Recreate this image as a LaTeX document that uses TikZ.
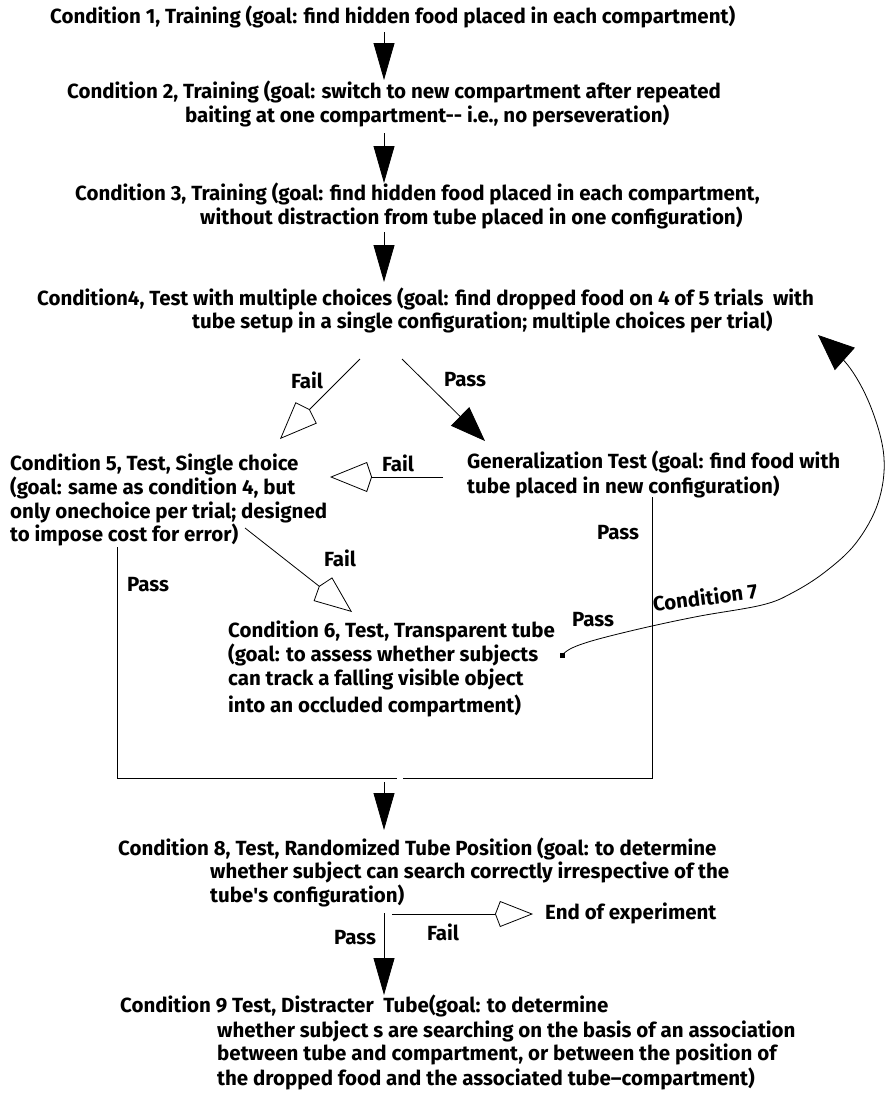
\documentclass[tikz,border=0pt]{standalone}
\usepackage{fontspec}
\setmainfont{Fira Sans}
\usetikzlibrary{arrows.meta}
\tikzset{
  txt/.style ={anchor=base west,inner sep=0pt,font=\bfseries\fontsize{20.5}{24}\selectfont},
  lab/.style ={inner sep=0pt,font=\bfseries\fontsize{20.5}{24}\selectfont},
  link/.style={line width=0.8pt},
  down/.style={link,-{Triangle[length=37pt,width=21pt]}},
  yes/.style ={link,-{Triangle[length=35pt,width=26pt]}},
  no/.style  ={link,-{Kite[open,length=42pt,width=30pt,inset=5pt]}},
}

\begin{document}
\begin{tikzpicture}[x=1pt,y=-1pt]
  \useasboundingbox (0,0) rectangle (893,1093);
  % conditions
  \node[txt] (c1) at (50,23){Condition 1, Training (goal: find hidden food placed in each compartment)};
  \node[txt] (c2a) at (67,98){Condition 2, Training (goal: switch to new compartment after repeated};
  \node[txt] (c2b) at (185,122){baiting at one compartment-{}- i.e., no perseveration)};
  \node[txt] (c3a) at (75,200){Condition 3, Training (goal: find hidden food placed in each compartment,};
  \node[txt] (c3b) at (200,224){without distraction from tube placed in one configuration)};
  \node[txt] (c4a) at (37,305){Condition4, Test with multiple choices (goal: find dropped food on 4 of 5 trials~ with};
  \node[txt] (c4b) at (192,328){tube setup in a single configuration; multiple choices per trial)};
  \node[txt] (g1) at (467,468){Generalization Test (goal: find food with};
  \node[txt] (g2) at (467,493){tube placed in new configuration)};
  \node[txt] (c5a) at (10,470){Condition 5, Test, Single choice};
  \node[txt] (c5b) at (10,494){(goal: same as condition 4, but};
  \node[txt] (c5c) at (10,518){only onechoice per trial; designed};
  \node[txt] (c5d) at (10,541){to impose cost for error)};
  \node[txt] (c6a) at (228,637){Condition 6, Test, Transparent tube};
  \node[txt] (c6b) at (228,661){(goal: to assess whether subjects};
  \node[txt] (c6c) at (228,685){can track a falling visible object};
  \node[txt] (c6d) at (228,712){into an occluded compartment)};
  \node[txt] (c8a) at (118,855){Condition 8, Test, Randomized Tube Position (goal: to determine};
  \node[txt] (c8b) at (210,878){whether subject can search correctly irrespective of the};
  \node[txt] (c8c) at (210,902){tube\textquotesingle s configuration)};
  \node[txt] (end) at (545,919){End of experiment};
  \node[txt] (c9a) at (120,1012){Condition 9 Test, Distracter~ Tube(goal: to determine};
  \node[txt] (c9b) at (217,1037){whether subject s are searching on the basis of an association};
  \node[txt] (c9c) at (217,1060){between tube and compartment, or between the position of};
  \node[txt] (c9d) at (217,1085){the dropped food and the associated tube--compartment)};

  % end points
  \coordinate (a1) at (384,32);  \coordinate (b1) at (384,80);
  \coordinate (a2) at (384,133); \coordinate (b2) at (384,183);
  \coordinate (a3) at (384,232); \coordinate (b3) at (384,282);
  \coordinate (f4) at (360,359); \coordinate (t5) at (280,439);
  \coordinate (p4) at (402,359); \coordinate (tg) at (485,441);
  \coordinate (fg) at (443,477); \coordinate (tf) at (330,477);
  \coordinate (f5) at (245,528); \coordinate (t6) at (352,612);
  \coordinate (p5) at (117,547); \coordinate (q5) at (117,778);
  \coordinate (pg) at (652,497); \coordinate (qg) at (652,778);
  \coordinate (m1) at (397,778); \coordinate (m2) at (403,778);
  \coordinate (a8) at (384,782); \coordinate (b8) at (384,830);
  \coordinate (p8) at (384,913); \coordinate (b9) at (384,995);
  \coordinate (f8) at (392,914); \coordinate (te) at (533,914);
  \coordinate (s6) at (562,655); \coordinate (t7) at (818,335);

  % arrows
  \draw[down] (a1) -- (b1);
  \draw[down] (a2) -- (b2);
  \draw[down] (a3) -- (b3);
  \draw[no] (f4) -- (t5);
  \draw[yes] (p4) -- (tg);
  \draw[no] (fg) -- (tf);
  \draw[no] (f5) -- (t6);
  \draw[link] (p5) -- (q5) -- (m1);
  \draw[link] (pg) -- (qg) -- (m2);
  \draw[down] (a8) -- (b8);
  \draw[down] (p8) -- (b9);
  \draw[no,-{Kite[open,length=38pt,width=26pt,inset=5pt]}] (f8) -- (te);
  \fill (s6) +(-2.5,-2.5) rectangle +(2.5,2.5);
  \draw[link,-{Triangle[length=36pt,width=30pt]}] plot[smooth,tension=0.6] coordinates
    {(s6) (570,649) (585,643) (610,636) (652,626) (700,616) (762,605) (792,593)
     (825,572) (856,543) (878,503) (884,458) (872,410) (850,368) (t7)};

  % labels
  \node[lab] (lf4) at (307,380){Fail};
  \node[lab] (lp4) at (465,380){Pass};
  \node[lab] (lfg) at (398,463){Fail};
  \node[lab] (lf5) at (340,558){Fail};
  \node[lab] (lp5) at (148,585){Pass};
  \node[lab] (lpg) at (618,533){Pass};
  \node[lab] (lp6) at (593,620){Pass};
  \node[lab,rotate=7] (lc7) at (705,597){Condition 7};
  \node[lab] (lp8) at (355,938){Pass};
  \node[lab] (lf8) at (443,932){Fail};
\end{tikzpicture}
\end{document}
